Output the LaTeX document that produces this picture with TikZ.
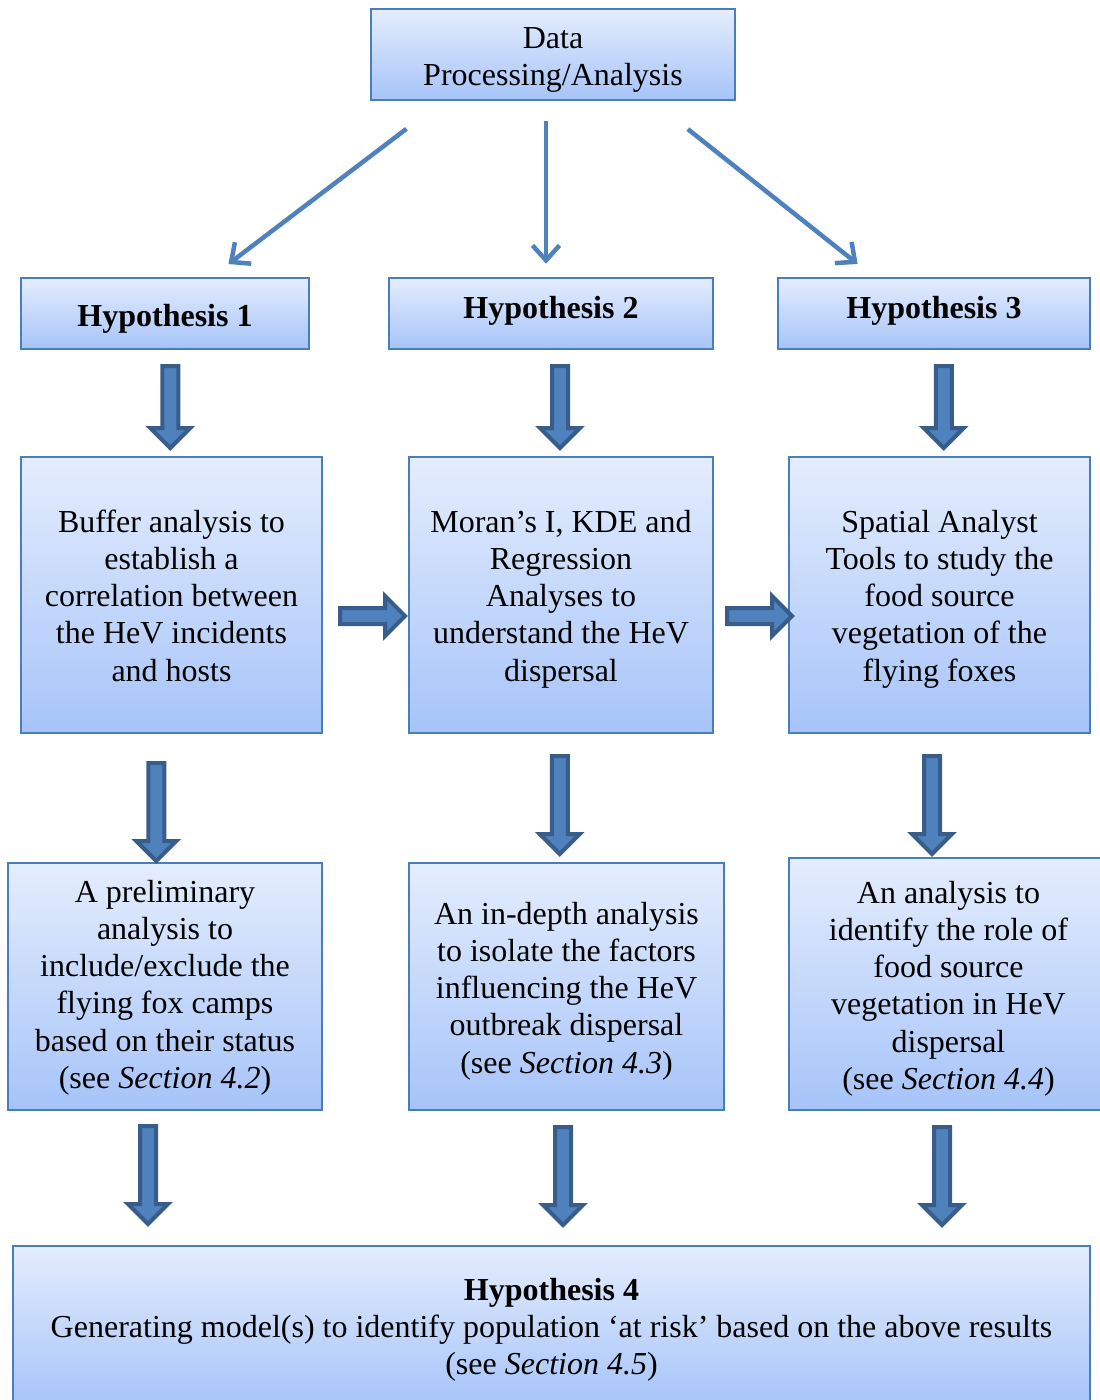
\documentclass[tikz,border=0pt]{standalone}
\usepackage{fontspec}
\setmainfont{Liberation Serif}
\usetikzlibrary{arrows.meta,shapes.arrows}

\definecolor{boxedge}{HTML}{4A7EBB}
\definecolor{boxtop}{HTML}{E4EDFD}
\definecolor{boxbottom}{HTML}{A6C4F9}
\definecolor{arrowblue}{HTML}{4F81BD}
\definecolor{arrowdark}{HTML}{385D8A}

\begin{document}
\begin{tikzpicture}[
    x=1pt, y=-1pt,
    box/.style={draw=boxedge, line width=2.5pt, top color=boxtop, bottom color=boxbottom,
                align=flush center, inner sep=0pt, minimum width=#1, text width=#1,
                font=\fontsize{32}{37.3}\selectfont},
    textpos/.style 2 args={text height=#1, text depth=#2},
    thinarrow/.style={draw=arrowblue, line width=4.5pt,
                      -{Straight Barb[length=15pt, width=27pt, line width=4.5pt]}},
    blockarrow/.style={single arrow, draw=arrowdark, fill=arrowblue, line width=4pt,
                       inner sep=6pt, single arrow head extend=12pt, minimum width=0pt},
    downarrow/.style={blockarrow, shape border rotate=270},
    rightarrow/.style={blockarrow, shape border rotate=0},
  ]
    \clip (0,0) rectangle (1100,1400);

    \node[box=364pt, minimum height=91, textpos={0pt}{13pt}] (data) at (553,54.5)
      {Data\\Processing/Analysis};

    \node[box=288pt, minimum height=71, textpos={25pt}{0pt}] (h1) at (165,313.5) {\textbf{Hypothesis 1}};
    \node[box=324pt, minimum height=71, textpos={9pt}{0pt}]  (h2) at (551,313.5) {\textbf{Hypothesis 2}};
    \node[box=312pt, minimum height=71, textpos={9pt}{0pt}]  (h3) at (934,313.5) {\textbf{Hypothesis 3}};

    \node[box=301pt, minimum height=276, textpos={0pt}{126pt}] (b1) at (171.5,595)
      {Buffer analysis to\\establish a\\correlation between\\the HeV incidents\\and hosts};
    \node[box=304pt, minimum height=276, textpos={0pt}{126pt}] (b2) at (561,595)
      {Moran’s I, KDE and\\Regression\\Analyses to\\understand the HeV\\dispersal};
    \node[box=301pt, minimum height=276, textpos={0pt}{126pt}] (b3) at (939.5,595)
      {Spatial Analyst\\Tools to study the\\food source\\vegetation of the\\flying foxes};

    \node[box=314pt, minimum height=247, textpos={0pt}{169pt}] (c1) at (165,986.5)
      {A preliminary\\analysis to\\include/exclude the\\flying fox camps\\based on their status\\(see \textit{Section 4.2})};
    \node[box=315pt, minimum height=247, textpos={0pt}{125pt}] (c2) at (566.5,986.5)
      {An in-depth analysis\\to isolate the factors\\influencing the HeV\\outbreak dispersal\\(see \textit{Section 4.3})};
    \node[box=319pt, minimum height=252, textpos={0pt}{162pt}] (c3) at (948.5,984)
      {An analysis to\\identify the role of\\food source\\vegetation in HeV\\dispersal\\(see \textit{Section 4.4})};

    \node[box=1077pt, minimum height=160, textpos={0pt}{52pt}] (d) at (551.5,1326)
      {\textbf{Hypothesis 4}\\Generating model(s) to identify population ‘at risk’ based on the above results\\(see \textit{Section 4.5})};

    % arrows out of the data box
    \draw[thinarrow, shorten <=45.6pt, shorten >=21pt]
      ([xshift=73pt]data.south west) -- ([xshift=192pt]h1.north west);
    \draw[thinarrow, shorten <=20pt, shorten >=13pt]
      ([xshift=-7pt]data.south) -- ([xshift=-7pt]data.south |- h2.north);
    \draw[thinarrow, shorten <=44.8pt, shorten >=20.6pt]
      ([xshift=283pt]data.south west) -- ([xshift=97pt]h3.north west);

    % block arrows
    \path (h1.south) -- (b1.north) node[downarrow, midway, xshift=2pt, minimum height=82pt] (a11) {};
    \path (h2.south) -- (b2.north) node[downarrow, midway, xshift=4pt, minimum height=82pt] (a12) {};
    \path (h3.south) -- (b3.north) node[downarrow, midway, xshift=7pt, minimum height=82pt] (a13) {};

    \path (b1.east) -- (b2.west) node[rightarrow, midway, xshift=3pt, yshift=-21pt, minimum height=65pt] (a21) {};
    \path (b2.east) -- (b3.west) node[rightarrow, midway, xshift=4.5pt, yshift=-21pt, minimum height=65pt] (a22) {};

    \path (b1.south) -- (c1.north) node[downarrow, midway, xshift=-12pt, yshift=-10pt, minimum height=98pt] (a31) {};
    \path (b2.south) -- (c2.north) node[downarrow, midway, xshift=-4pt, yshift=-3pt, minimum height=98pt] (a32) {};
    \path (b3.south) -- (c3.north) node[downarrow, midway, xshift=-12pt, yshift=-5.5pt, minimum height=98pt] (a33) {};

    \path (c1.south) -- (c1.south |- d.north) node[downarrow, midway, xshift=-17pt, yshift=7pt, minimum height=98pt] (a41) {};
    \path (c2.south) -- (c2.south |- d.north) node[downarrow, midway, xshift=-3.5pt, yshift=6pt, minimum height=98pt] (a42) {};
    \path (c3.south) -- (c3.south |- d.north) node[downarrow, midway, xshift=-6.5pt, yshift=6pt, minimum height=98pt] (a43) {};
  \end{tikzpicture}
\end{document}
